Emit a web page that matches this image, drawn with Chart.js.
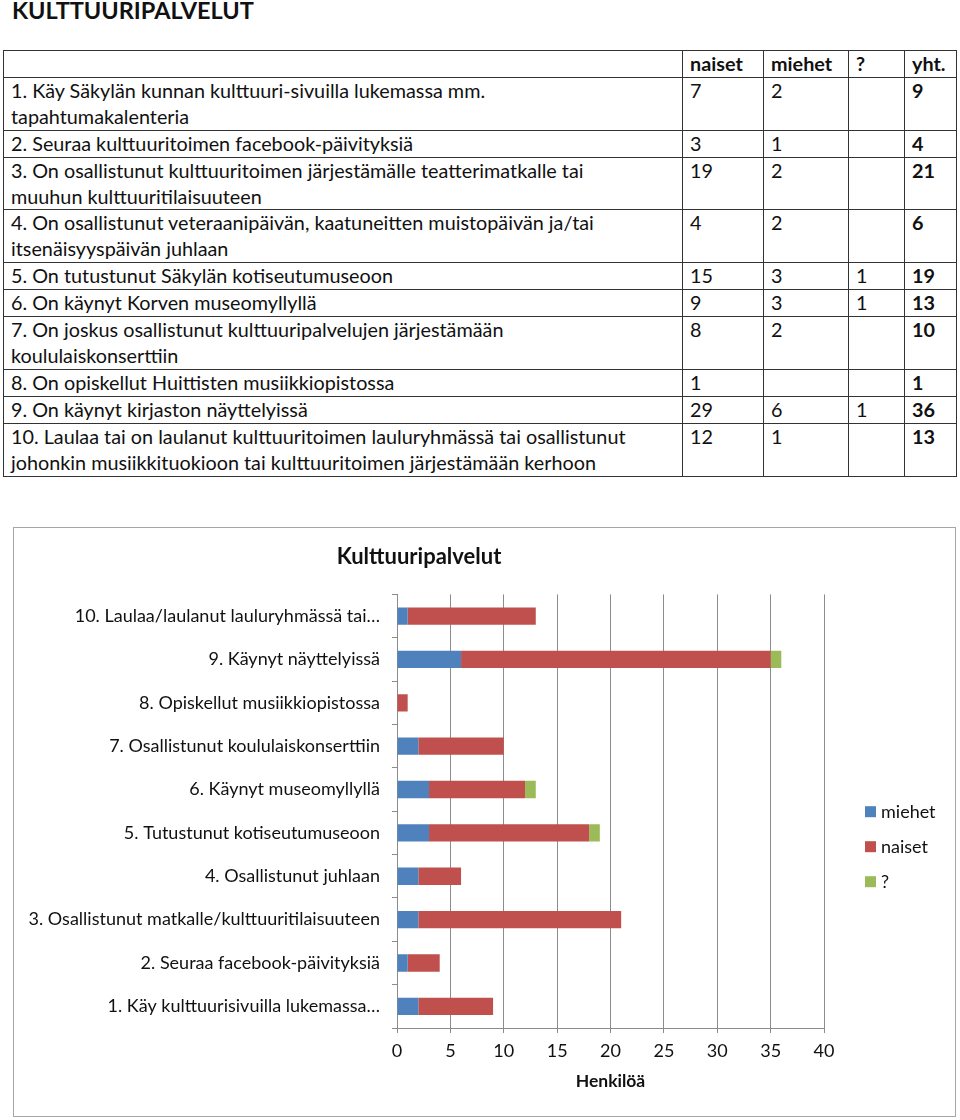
<!DOCTYPE html>
<html>
<head>
<meta charset="utf-8">
<script src="https://cdn.jsdelivr.net/npm/chart.js@4"></script>
<style>
    body { margin: 0; background: #fff; font-family: Lato, sans-serif; color: #111; }
    .page { position: relative; width: 960px; height: 1120px; overflow: hidden; }
    h1 { position: absolute; left: 12px; top: -4px; margin: 0; font-size: 23.5px; font-weight: bold; }
    table.stats { position: absolute; left: 3px; top: 50px; width: 954px; border-collapse: collapse; font-size: 19.8px; }
    table.stats td { border: 1px solid #333; padding: 0 7px; line-height: 25.9px; vertical-align: top; white-space: nowrap; }
    table.stats td.q { width: 664px; }
    table.stats td.n { width: 66px; }
    table.stats td.m { width: 70px; }
    table.stats td.u { width: 41px; }
    table.stats td.t { font-weight: bold; }
    table.stats tr.head td { font-weight: bold; }
    .chart-box { position: absolute; left: 13px; top: 527px; width: 941px; height: 588px; border: 1px solid #a6a6a6; }
</style>
</head>
<body>
<div class="page">
    <h1>KULTTUURIPALVELUT</h1>
    <table class="stats" id="statsTable"></table>
    <div class="chart-box"><canvas id="cultureChart" width="941" height="588"></canvas></div>
</div>
<script>
const questions = [
    ['1. Käy Säkylän kunnan kulttuuri-sivuilla lukemassa mm.', 'tapahtumakalenteria'],
    ['2. Seuraa kulttuuritoimen facebook-päivityksiä'],
    ['3. On osallistunut kulttuuritoimen järjestämälle teatterimatkalle tai', 'muuhun kulttuuritilaisuuteen'],
    ['4. On osallistunut veteraanipäivän, kaatuneitten muistopäivän ja/tai', 'itsenäisyyspäivän juhlaan'],
    ['5. On tutustunut Säkylän kotiseutumuseoon'],
    ['6. On käynyt Korven museomyllyllä'],
    ['7. On joskus osallistunut kulttuuripalvelujen järjestämään', 'koululaiskonserttiin'],
    ['8. On opiskellut Huittisten musiikkiopistossa'],
    ['9. On käynyt kirjaston näyttelyissä'],
    ['10. Laulaa tai on laulanut kulttuuritoimen lauluryhmässä tai osallistunut', 'johonkin musiikkituokioon tai kulttuuritoimen järjestämään kerhoon']
];

const chartLabels = [
    '1. Käy kulttuurisivuilla lukemassa…',
    '2. Seuraa facebook-päivityksiä',
    '3. Osallistunut matkalle/kulttuuritilaisuuteen',
    '4. Osallistunut juhlaan',
    '5. Tutustunut kotiseutumuseoon',
    '6. Käynyt museomyllyllä',
    '7. Osallistunut koululaiskonserttiin',
    '8. Opiskellut musiikkiopistossa',
    '9. Käynyt näyttelyissä',
    '10. Laulaa/laulanut lauluryhmässä tai…'
];

const naiset = [7, 3, 19, 4, 15, 9, 8, 1, 29, 12];
const miehet = [2, 1, 2, 2, 3, 3, 2, 0, 6, 1];
const unknown = [0, 0, 0, 0, 1, 1, 0, 0, 1, 0];
const totals = [9, 4, 21, 6, 19, 13, 10, 1, 36, 13];

const xTicks = [0, 5, 10, 15, 20, 25, 30, 35, 40];

// Table
function buildTable() {
    const blank = v => (v ? v : '');
    let html = '<tr class="head"><td class="q"></td><td class="n">naiset</td><td class="m">miehet</td><td class="u">?</td><td>yht.</td></tr>';
    questions.forEach((lines, i) => {
        html += `<tr>
            <td class="q">${lines.join('<br>')}</td>
            <td class="n">${blank(naiset[i])}</td>
            <td class="m">${blank(miehet[i])}</td>
            <td class="u">${blank(unknown[i])}</td>
            <td class="t">${totals[i]}</td>
        </tr>`;
    });
    document.getElementById('statsTable').innerHTML = html;
}

// Legend drawn at the right of the plot, Excel style
const sideLegend = {
    id: 'sideLegend',
    afterDraw(chart) {
        const ctx = chart.ctx;
        const x = chart.chartArea.right + 41;
        const midY = (chart.chartArea.top + chart.chartArea.bottom) / 2;
        ctx.save();
        ctx.font = '18px Lato';
        ctx.textBaseline = 'middle';
        chart.data.datasets.forEach((ds, i) => {
            const y = midY + i * 35;
            ctx.fillStyle = ds.backgroundColor;
            ctx.fillRect(x, y - 5, 11, 11);
            ctx.fillStyle = '#111';
            ctx.fillText(ds.label, x + 16, y + 1);
        });
        ctx.restore();
    }
};

function buildChart() {
    const ctx = document.getElementById('cultureChart').getContext('2d');
    new Chart(ctx, {
        type: 'bar',
        data: {
            labels: chartLabels,
            datasets: [
                { label: 'miehet', data: miehet, backgroundColor: '#4F81BD' },
                { label: 'naiset', data: naiset, backgroundColor: '#C0504D' },
                { label: '?', data: unknown, backgroundColor: '#9BBB59' }
            ]
        },
        options: {
            indexAxis: 'y',
            responsive: false,
            animation: false,
            categoryPercentage: 0.4,
            barPercentage: 1,
            layout: { padding: { left: 0, right: 131, top: 0, bottom: 0 } },
            plugins: {
                legend: { display: false },
                tooltip: { enabled: false },
                title: {
                    display: true,
                    text: 'Kulttuuripalvelut',
                    color: '#111',
                    font: { family: 'Lato', size: 22, weight: 'bold' },
                    padding: { top: 16, bottom: 24 }
                }
            },
            scales: {
                x: {
                    stacked: true,
                    min: 0,
                    max: 40,
                    afterBuildTicks: axis => { axis.ticks = xTicks.map(v => ({ value: v })); },
                    afterFit: axis => { axis.height = 88; },
                    grid: { color: '#8c8c8c', tickLength: 5 },
                    border: { color: '#8c8c8c' },
                    ticks: { color: '#111', padding: 7, font: { family: 'Lato', size: 18 } },
                    title: {
                        display: true,
                        text: 'Henkilöä',
                        color: '#111',
                        font: { family: 'Lato', size: 17.5, weight: 'bold' },
                        padding: { top: 4, bottom: 24 }
                    }
                },
                y: {
                    stacked: true,
                    reverse: true,
                    afterFit: axis => { axis.width = 383; },
                    grid: { drawOnChartArea: false, offset: true, color: '#8c8c8c', tickLength: 5 },
                    border: { color: '#8c8c8c' },
                    ticks: { color: '#111', padding: 12, font: { family: 'Lato', size: 18 } }
                }
            }
        },
        plugins: [sideLegend]
    });
}

buildTable();
buildChart();
</script>
</body>
</html>
